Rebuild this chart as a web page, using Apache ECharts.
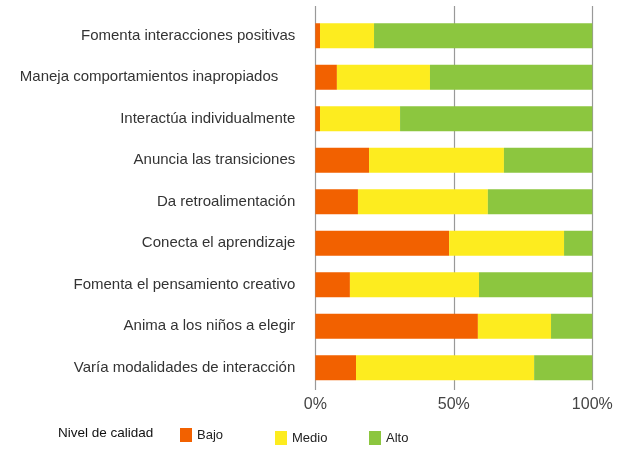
<!DOCTYPE html>
<html lang="es">
<head>
    <meta charset="UTF-8" />
    <title>Nivel de calidad</title>
    <script src="https://cdn.jsdelivr.net/npm/echarts@6/dist/echarts.min.js"></script>
    <style>
        html, body { margin: 0; padding: 0; background: #fff; }
    </style>
</head>
<body>
    <div id="chart" style="width: 635px; height: 450px"></div>
    <script>
        var categories = [
            "Fomenta interacciones positivas",
            "Maneja comportamientos inapropiados",
            "Interactúa individualmente",
            "Anuncia las transiciones",
            "Da retroalimentación",
            "Conecta el aprendizaje",
            "Fomenta el pensamiento creativo",
            "Anima a los niños a elegir",
            "Varía modalidades de interacción",
        ];
        // porcentajes por nivel de calidad
        var bajo = [1.7, 7.8, 1.7, 19.4, 15.4, 48.3, 12.5, 58.7, 14.7];
        var medio = [19.5, 33.6, 28.9, 48.7, 46.9, 41.5, 46.6, 26.4, 64.3];
        var alto = [78.8, 58.6, 69.4, 31.9, 37.7, 10.2, 40.9, 14.9, 21.0];
        var xTicks = [0, 50, 100];

        var colors = { Bajo: "#F26100", Medio: "#FDEC1F", Alto: "#8CC63F" };
        var font = "'Liberation Sans', Arial, sans-serif";

        var mCharts = echarts.init(document.getElementById("chart"));

        function legendItem(name, left, top) {
            return {
                data: [name],
                left: left,
                top: top,
                padding: 0,
                itemWidth: 12,
                itemHeight: 14,
                itemGap: 0,
                icon: "rect",
                selectedMode: false,
                textStyle: { fontFamily: font, fontSize: 13, color: "#222", padding: [0, 0, 0, 0] },
            };
        }

        function barSeries(name, data) {
            return {
                name: name,
                type: "bar",
                stack: "total",
                data: data,
                barWidth: 25,
                itemStyle: { color: colors[name] },
                xAxisIndex: 0,
                yAxisIndex: 0,
            };
        }

        var option = {
            animation: false,
            title: {
                text: "Nivel de calidad",
                left: 58,
                top: 426,
                padding: 0,
                textStyle: { fontFamily: font, fontSize: 13.5, fontWeight: "normal", color: "#111" },
            },
            legend: [
                legendItem("Bajo", 180, 428),
                legendItem("Medio", 275, 431),
                legendItem("Alto", 369, 431),
            ],
            grid: [
                { left: 315.3, right: 42.7, top: 15, height: 373.5 },
                { left: 315.3, right: 42.7, top: 6, bottom: 60 },
            ],
            xAxis: [
                {
                    gridIndex: 0,
                    type: "value",
                    min: 0,
                    max: 100,
                    show: false,
                },
                {
                    gridIndex: 1,
                    type: "value",
                    min: xTicks[0],
                    max: xTicks[xTicks.length - 1],
                    interval: 50,
                    axisLine: { show: false },
                    axisTick: { show: false },
                    splitLine: { show: true, lineStyle: { color: "#999", width: 1.2 } },
                    axisLabel: {
                        formatter: "{value}%",
                        margin: 7,
                        fontFamily: font,
                        fontSize: 16,
                        color: "#444",
                    },
                },
            ],
            yAxis: [
                {
                    gridIndex: 0,
                    type: "category",
                    data: categories,
                    inverse: true,
                    axisLine: { show: false },
                    axisTick: { show: false },
                    axisLabel: {
                        margin: 20,
                        fontFamily: font,
                        fontSize: 15,
                        color: "#333",
                        formatter: function (v) {
                            // la etiqueta original deja un hueco a la derecha
                            return v === categories[1] ? "{pad|" + v + "}" : v;
                        },
                        rich: {
                            pad: { fontFamily: font, fontSize: 15, color: "#333", padding: [0, 17, 0, 0] },
                        },
                    },
                },
                {
                    gridIndex: 1,
                    type: "value",
                    show: false,
                },
            ],
            series: [
                barSeries("Bajo", bajo),
                barSeries("Medio", medio),
                barSeries("Alto", alto),
            ],
        };
        mCharts.setOption(option);
    </script>
</body>
</html>
